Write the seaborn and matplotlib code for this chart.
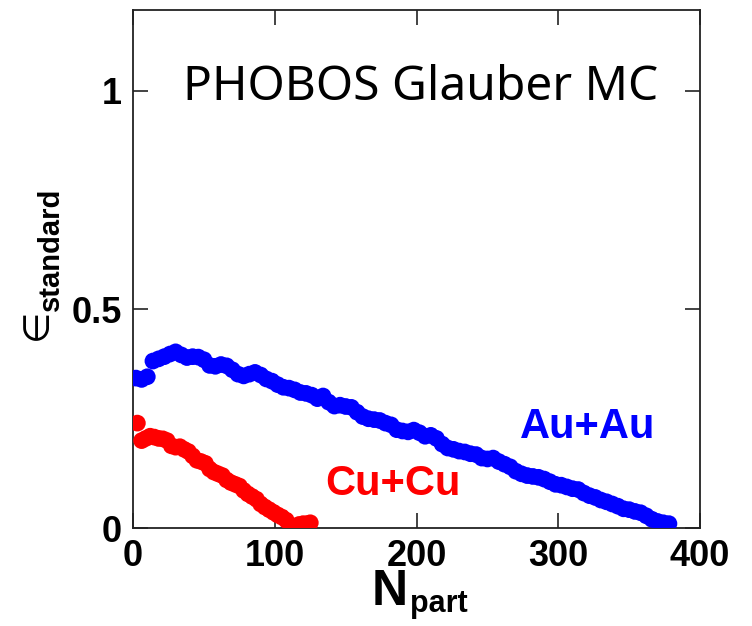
import matplotlib
matplotlib.use("Agg")
import matplotlib.pyplot as plt
import seaborn as sns
import pandas as pd

# ---- data ----
au_npart = [2, 6, 10, 14, 18, 22, 26, 30, 34, 38, 42, 46, 50, 54, 58, 62, 66, 70, 74, 78,
            82, 86, 90, 94, 98, 102, 106, 110, 114, 118, 122, 126, 130, 134, 138, 142, 146,
            150, 154, 158, 162, 166, 170, 174, 178, 182, 186, 190, 194, 198, 202, 206, 210,
            214, 218, 222, 226, 230, 234, 238, 242, 246, 250, 254, 258, 262, 266, 270, 274,
            278, 282, 286, 290, 294, 298, 302, 306, 310, 314, 318, 322, 326, 330, 334, 338,
            342, 346, 350, 354, 358, 362, 366, 370, 374, 378]
au_eps = [0.343, 0.340, 0.346, 0.382, 0.387, 0.392, 0.398, 0.403, 0.396, 0.390, 0.392, 0.391,
          0.385, 0.372, 0.370, 0.374, 0.371, 0.362, 0.352, 0.348, 0.352, 0.356, 0.350, 0.341,
          0.336, 0.328, 0.322, 0.320, 0.316, 0.310, 0.308, 0.304, 0.296, 0.302, 0.288, 0.279,
          0.281, 0.278, 0.276, 0.265, 0.255, 0.250, 0.248, 0.246, 0.240, 0.236, 0.225, 0.222,
          0.220, 0.224, 0.218, 0.210, 0.212, 0.205, 0.192, 0.183, 0.180, 0.176, 0.174, 0.170,
          0.168, 0.160, 0.158, 0.160, 0.152, 0.146, 0.140, 0.130, 0.124, 0.120, 0.118, 0.116,
          0.112, 0.106, 0.100, 0.098, 0.094, 0.090, 0.088, 0.080, 0.074, 0.070, 0.064, 0.060,
          0.055, 0.050, 0.044, 0.042, 0.038, 0.035, 0.028, 0.020, 0.015, 0.012, 0.010]

cu_npart = [3, 6, 9, 12, 15, 18, 21, 24, 27, 30, 33, 36, 39, 42, 45, 48, 51, 54, 57, 60, 63,
            66, 69, 72, 75, 78, 81, 84, 87, 90, 93, 96, 99, 102, 105, 108, 111, 114, 117, 120,
            123, 125]
cu_eps = [0.240, 0.200, 0.205, 0.210, 0.208, 0.205, 0.204, 0.200, 0.188, 0.185, 0.186, 0.180,
          0.175, 0.165, 0.155, 0.152, 0.148, 0.135, 0.128, 0.124, 0.120, 0.110, 0.104, 0.100,
          0.096, 0.086, 0.078, 0.072, 0.066, 0.055, 0.048, 0.042, 0.036, 0.030, 0.025, 0.018,
          0.006, 0.002, 0.008, 0.010, 0.010, 0.012]

x_ticks = [0, 100, 200, 300, 400]
x_ticklabels = ["0", "100", "200", "300", "400"]
y_ticks = [0, 0.5, 1]
y_ticklabels = ["0", "0.5", "1"]

title_text = "PHOBOS Glauber MC"
au_label = "Au+Au"
cu_label = "Cu+Cu"

df = pd.DataFrame({
    "Npart": au_npart + cu_npart,
    "eps": au_eps + cu_eps,
    "system": [au_label] * len(au_npart) + [cu_label] * len(cu_npart),
})

sns.set_style("ticks")
plt.rcParams["font.family"] = ["Liberation Sans", "DejaVu Sans"]
plt.rcParams["text.color"] = "black"

fig = plt.figure(figsize=(7.52, 6.26), dpi=100)
ax = fig.add_axes([0.177, 0.1565, 0.754, 0.8275])

sns.scatterplot(data=df, x="Npart", y="eps", hue="system",
                palette={au_label: "#0000ff", cu_label: "#ff0000"},
                s=145, linewidth=0, edgecolor="none", legend=False, ax=ax, zorder=3)

ax.set_xlim(0, 400)
ax.set_ylim(0, 1.185)
ax.set_xticks(x_ticks)
ax.set_xticklabels(x_ticklabels)
ax.set_yticks(y_ticks)
ax.set_yticklabels(y_ticklabels)
ax.tick_params(direction="in", length=11, width=1.2, colors="#222222",
               top=True, right=True, labelsize=26, pad=8)
for lab in ax.get_xticklabels() + ax.get_yticklabels():
    lab.set_fontweight("bold")
    lab.set_color("black")
for sp in ax.spines.values():
    sp.set_linewidth(1.3)
    sp.set_color("#222222")

ax.set_xlabel("")
ax.set_ylabel("")

ax.text(0.088, 0.826, title_text, transform=ax.transAxes, fontsize=34.5,
        family=["Noto Sans", "DejaVu Sans"], color="black", va="baseline", ha="left")
ax.text(0.683, 0.174, au_label, transform=ax.transAxes, fontsize=30,
        fontweight="bold", color="#0000ff", va="baseline", ha="left")
ax.text(0.339, 0.064, cu_label, transform=ax.transAxes, fontsize=30,
        fontweight="bold", color="#ff0000", va="baseline", ha="left")

# x label N_part
fig.text(372 / 752, (626 - 605) / 626, "N", fontsize=36, fontweight="bold",
         color="black", va="baseline", ha="left")
fig.text(410 / 752, (626 - 612) / 626, "part", fontsize=22, fontweight="bold",
         color="black", va="baseline", ha="left")

# y label epsilon_standard
fig.text(54 / 752, (626 - 340) / 626, "\u2208", fontsize=26, rotation=90,
         family=["DejaVu Sans"], color="black", va="bottom", ha="right")
fig.text(65 / 752, (626 - 311) / 626, "standard", fontsize=21, fontweight="bold",
         rotation=90, color="black", va="bottom", ha="right")

fig.savefig("out.png", dpi=100)
